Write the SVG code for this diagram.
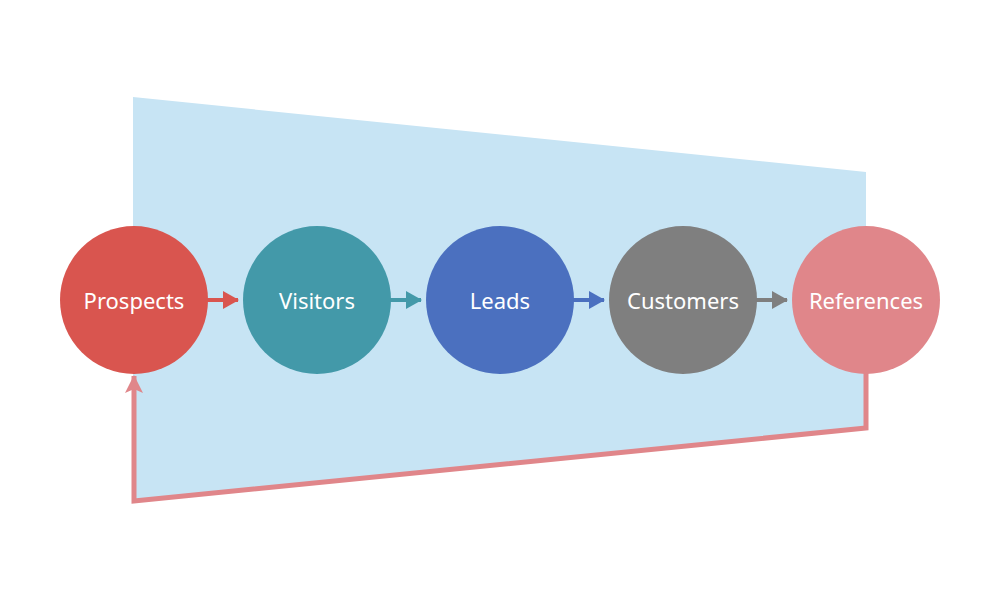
<svg xmlns="http://www.w3.org/2000/svg" width="1000" height="601" viewBox="0 0 1000 601">
<defs>
<style>
.lbl{font-family:"Noto Sans","Open Sans",sans-serif;font-size:22px;fill:#fff;text-anchor:middle;dominant-baseline:central}
.node{stroke:none}
</style>
<marker id="ar" viewBox="0 0 16 18" refX="15" refY="9" markerWidth="16" markerHeight="18" markerUnits="userSpaceOnUse" orient="auto"><path d="M0,0L16,9L0,18Z" fill="#D9554F"/></marker>
<marker id="at" viewBox="0 0 16 18" refX="15" refY="9" markerWidth="16" markerHeight="18" markerUnits="userSpaceOnUse" orient="auto"><path d="M0,0L16,9L0,18Z" fill="#4399A9"/></marker>
<marker id="ab" viewBox="0 0 16 18" refX="15" refY="9" markerWidth="16" markerHeight="18" markerUnits="userSpaceOnUse" orient="auto"><path d="M0,0L16,9L0,18Z" fill="#4B70BF"/></marker>
<marker id="ag" viewBox="0 0 16 18" refX="15" refY="9" markerWidth="16" markerHeight="18" markerUnits="userSpaceOnUse" orient="auto"><path d="M0,0L16,9L0,18Z" fill="#7F7F7F"/></marker>
<marker id="ap" viewBox="0 0 18 18" refX="17" refY="9" markerWidth="18" markerHeight="18" markerUnits="userSpaceOnUse" orient="auto"><path d="M0,0L18,9L0,18L4,9Z" fill="#E0868A"/></marker>
</defs>
<rect width="1000" height="601" fill="#fff"/>
<polygon points="133,97 866,172 866,428 133,501" fill="#C7E4F4"/>
<g id="connectors" fill="none" stroke-width="4">
<line x1="206" y1="300" x2="238" y2="300" stroke="#D9554F" marker-end="url(#ar)"/>
<line x1="389" y1="300" x2="421" y2="300" stroke="#4399A9" marker-end="url(#at)"/>
<line x1="572" y1="300" x2="604" y2="300" stroke="#4B70BF" marker-end="url(#ab)"/>
<line x1="755" y1="300" x2="787" y2="300" stroke="#7F7F7F" marker-end="url(#ag)"/>
<polyline points="866,372 866,428 134,501 134,376" stroke="#E0868A" stroke-width="5" marker-end="url(#ap)"/>
</g>
<g id="prospects"><circle class="node" cx="134" cy="300" r="74" fill="#D9554F"/><text class="lbl" x="134" y="300">Prospects</text></g>
<g id="visitors"><circle class="node" cx="317" cy="300" r="74" fill="#4399A9"/><text class="lbl" x="317" y="300">Visitors</text></g>
<g id="leads"><circle class="node" cx="500" cy="300" r="74" fill="#4B70BF"/><text class="lbl" x="500" y="300">Leads</text></g>
<g id="customers"><circle class="node" cx="683" cy="300" r="74" fill="#7F7F7F"/><text class="lbl" x="683" y="300">Customers</text></g>
<g id="references"><circle class="node" cx="866" cy="300" r="74" fill="#E0868A"/><text class="lbl" x="866" y="300">References</text></g>
</svg>
